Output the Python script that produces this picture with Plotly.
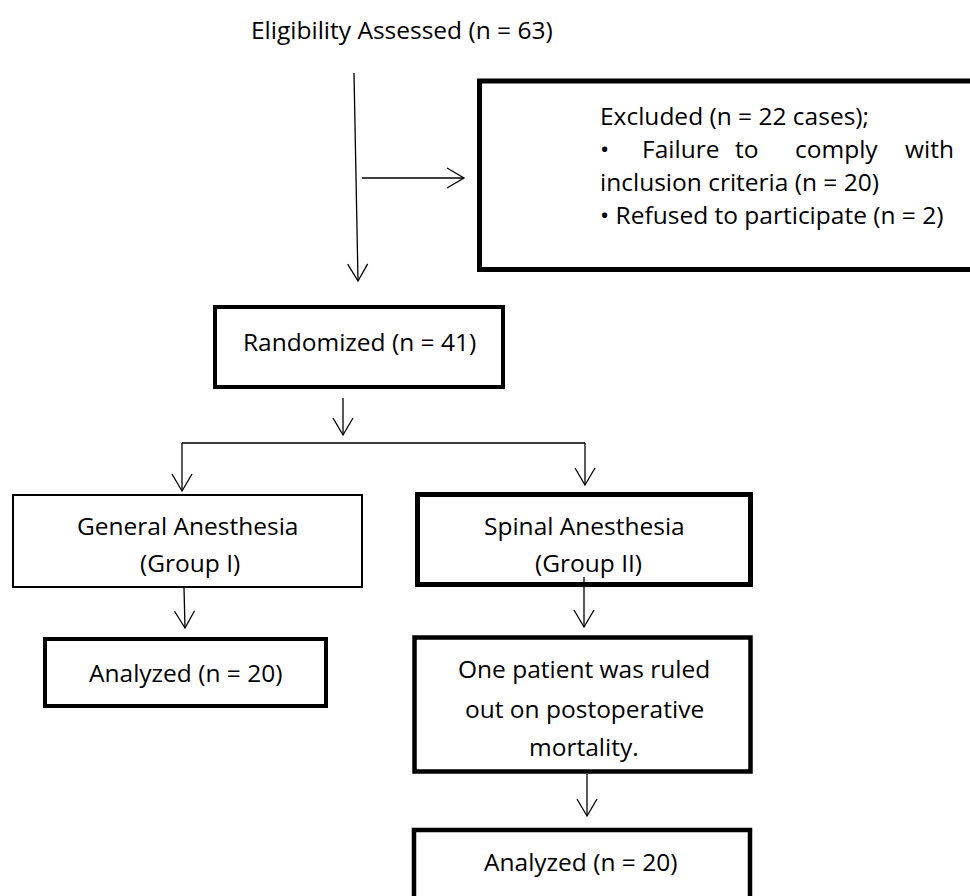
import math
import plotly.graph_objects as go

# ---- content ----
title_text = "Eligibility Assessed (n = 63)"
excluded_lines = ["Excluded (n = 22 cases);", "inclusion criteria (n = 20)", "• Refused to participate (n = 2)"]
excluded_justified = ["•", "Failure", "to", "comply", "with"]
randomized_text = "Randomized (n = 41)"
general_lines = ["General Anesthesia", "(Group I)"]
spinal_lines = ["Spinal Anesthesia", "(Group II)"]
analyzed_left = "Analyzed (n = 20)"
ruled_out_lines = ["One patient was ruled", "out on postoperative", "mortality."]
analyzed_right = "Analyzed (n = 20)"

W, H = 970, 896
FONT = "Open Sans"
FS = 24.5

fig = go.Figure()
shapes = []
annotations = []

def box(x0, y0, x1, y1, w):
    shapes.append(dict(type="rect", x0=x0, y0=y0, x1=x1, y1=y1,
                       line=dict(color="black", width=w), fillcolor="rgba(0,0,0,0)", layer="below"))

def line(x0, y0, x1, y1, w=1.3):
    shapes.append(dict(type="line", x0=x0, y0=y0, x1=x1, y1=y1, line=dict(color="black", width=w)))

def arrow(x0, y0, x1, y1, head=(10, 17)):
    line(x0, y0, x1, y1)
    dx, dy = x1 - x0, y1 - y0
    L = math.hypot(dx, dy)
    ux, uy = dx / L, dy / L
    px, py = -uy, ux
    hw, hl = head
    bx, by = x1 - ux * hl, y1 - uy * hl
    path = f"M {bx + px*hw},{by + py*hw} L {x1},{y1} L {bx - px*hw},{by - py*hw}"
    shapes.append(dict(type="path", path=path, line=dict(color="black", width=1.3)))

def text(x, y, s, anchor="center"):
    annotations.append(dict(x=x, y=y, text=s, showarrow=False, xanchor=anchor, yanchor="middle",
                            font=dict(family=FONT, size=FS, color="black")))

# title
text(402, 29, title_text)

# main arrows
arrow(354, 73, 358, 281)
arrow(362, 178, 464, 178)

# excluded box (runs off the right edge)
box(479.5, 81, 1000, 269.5, 5)
text(598, 115, excluded_lines[0], "left")
jx = [598, 640, 733, 793, 903]
for xx, wd in zip(jx, excluded_justified):
    text(xx, 148, wd, "left")
text(598, 181, excluded_lines[1], "left")
text(598, 214, excluded_lines[2], "left")

# randomized
box(215, 307, 503, 387, 4)
text(359, 341, randomized_text)
arrow(343, 398, 343, 435)
line(182, 443, 585, 443)
arrow(182, 443, 182, 491)
arrow(585, 443, 585, 485)

# general
box(13, 495, 362, 587, 2)
text(187, 525, general_lines[0])
text(190, 562, general_lines[1])
arrow(184, 588, 185, 628)

# spinal
box(417.5, 494.5, 750.5, 584.5, 5)
text(584, 525, spinal_lines[0])
text(588, 562, spinal_lines[1])
arrow(584, 577, 584, 627)

# analyzed left
box(45, 639, 326, 706, 4)
text(185, 672, analyzed_left)

# ruled out
box(414.5, 637.5, 750.5, 771.5, 4.5)
for yy, s in zip([668, 708, 746], ruled_out_lines):
    text(584, yy, s)
arrow(587, 774, 587, 816)

# analyzed right (runs off the bottom edge)
box(414, 830, 750, 930, 4.5)
text(580, 861, analyzed_right)

fig.update_layout(
    width=W, height=H, margin=dict(l=0, r=0, t=0, b=0),
    paper_bgcolor="white", plot_bgcolor="white",
    xaxis=dict(range=[0, W], visible=False, fixedrange=True),
    yaxis=dict(range=[H, 0], visible=False, fixedrange=True),
    shapes=shapes, annotations=annotations, showlegend=False,
)
fig.write_html(
    "out.html",
    config={"displayModeBar": False},
    post_script="document.body.style.margin='0px';document.body.style.overflow='hidden';",
)
